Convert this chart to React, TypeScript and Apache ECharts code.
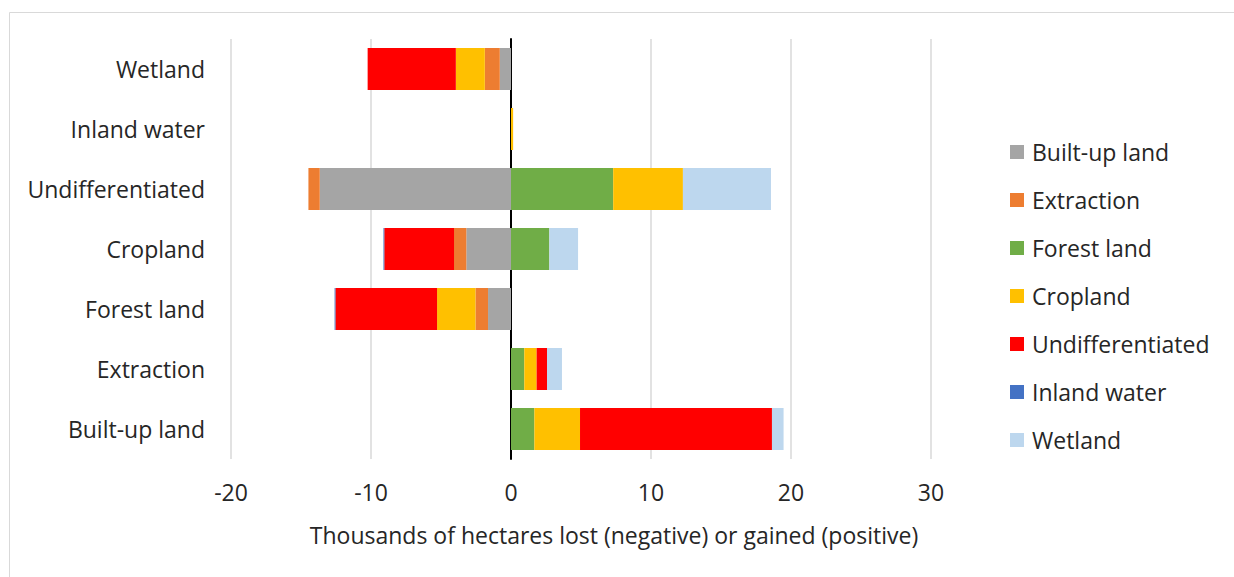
import React, { useEffect, useRef } from "react";
import * as echarts from "echarts";

// Land-use categories, listed bottom to top
const categories = [
  "Built-up land",
  "Extraction",
  "Forest land",
  "Cropland",
  "Undifferentiated",
  "Inland water",
  "Wetland",
];

// Thousands of hectares lost (negative) or gained (positive), per category above
const builtUp = [0, 0, -1.64, -3.19, -13.66, 0, -0.8];
const extraction = [0, 0, -0.9, -0.88, -0.81, 0, -1.07];
const forest = [1.67, 0.95, 0, 2.74, 7.3, 0, 0];
const cropland = [3.26, 0.88, -2.74, 0, 4.98, 0.15, -2.07];
const undifferentiated = [13.71, 0.74, -7.26, -4.98, 0, 0, -6.3];
const inlandWater = [0, 0, -0.06, -0.06, 0, 0, 0];
const wetland = [0.83, 1.07, 0, 2.05, 6.29, 0, 0];

const seriesNames = [
  "Built-up land",
  "Extraction",
  "Forest land",
  "Cropland",
  "Undifferentiated",
  "Inland water",
  "Wetland",
];
const seriesData = [builtUp, extraction, forest, cropland, undifferentiated, inlandWater, wetland];
const seriesColors = ["#A5A5A5", "#ED7D31", "#70AD47", "#FFC000", "#FF0000", "#4472C4", "#BDD7EE"];

const axisTitle = "Thousands of hectares lost (negative) or gained (positive)";
const FONT = "Open Sans";
const FS = 23;

export default function App() {
  const ref = useRef<HTMLDivElement>(null);

  useEffect(() => {
    if (!ref.current) return;
    const chart = echarts.init(ref.current, null, { renderer: "svg" });
    chart.setOption({
      animation: false,
      backgroundColor: "#ffffff",
      textStyle: { fontFamily: FONT },
      grid: { left: 231, right: 303, top: 39, bottom: 118 },
      legend: {
        orient: "vertical",
        left: 1005,
        top: 134,
        itemWidth: 14,
        itemHeight: 14,
        itemGap: 22,
        icon: "rect",
        data: seriesNames,
        textStyle: {
          fontFamily: FONT,
          fontSize: FS,
          color: "#262626",
          lineHeight: 26,
          padding: [0, 0, 0, 3],
        },
      },
      xAxis: {
        type: "value",
        min: -20,
        max: 30,
        interval: 10,
        axisLine: { show: false },
        axisTick: { show: false },
        splitLine: { lineStyle: { color: "#D9D9D9", width: 1.5 } },
        axisLabel: { fontFamily: FONT, fontSize: FS, color: "#262626", margin: 21 },
      },
      yAxis: {
        type: "category",
        data: categories,
        axisLine: { onZero: true, lineStyle: { color: "#000000", width: 2 } },
        axisTick: { show: false },
        axisLabel: { fontFamily: FONT, fontSize: FS, color: "#262626", margin: 26 },
      },
      graphic: [
        {
          type: "rect",
          left: 7,
          top: 10,
          shape: { width: 1300, height: 600 },
          style: { fill: "none", stroke: "#D9D9D9", lineWidth: 1 },
          silent: true,
        },
        {
          type: "text",
          x: 614,
          y: 535,
          style: {
            text: axisTitle,
            fontFamily: FONT,
            fontSize: FS,
            fill: "#262626",
            align: "center",
            verticalAlign: "middle",
          },
        },
      ],
      series: seriesNames.map((name, i) => ({
        name,
        type: "bar",
        stack: "total",
        barCategoryGap: "30%",
        data: seriesData[i],
        itemStyle: { color: seriesColors[i] },
      })),
    });
    return () => chart.dispose();
  }, []);

  return (
    <div
      ref={ref}
      style={{ position: "fixed", left: 0, top: 0, width: 1234, height: 577 }}
    />
  );
}
